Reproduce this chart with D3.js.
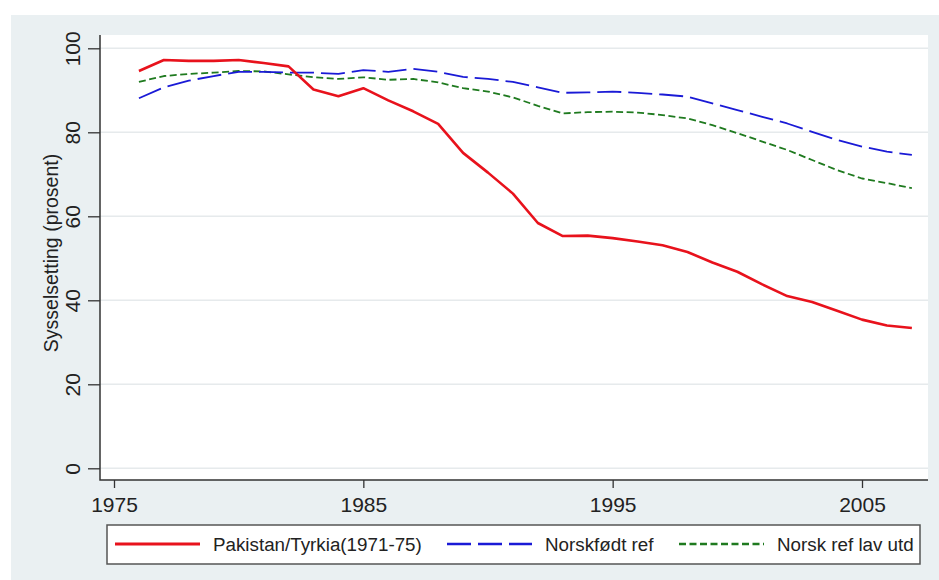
<!DOCTYPE html>
<html>
<head>
<meta charset="utf-8">
<script src="https://cdn.jsdelivr.net/npm/d3@7"></script>
<style>
  body { margin: 0; background: #ffffff; }
  svg { display: block; font-family: "Liberation Sans", Arial, sans-serif; }
</style>
</head>
<body>
<svg id="chart"></svg>
<script>
/* ===============================
   Data
================================ */

const years = d3.range(1976, 2008);

const pakTyr = [
  94.6, 97.2, 97.0, 97.0, 97.2, 96.5, 95.7, 90.2, 88.6, 90.5,
  87.6, 85.0, 82.0, 75.1, 70.4, 65.4, 58.4, 55.3, 55.4, 54.8,
  54.0, 53.1, 51.5, 49.0, 46.8, 43.8, 41.0, 39.6, 37.5, 35.4,
  34.0, 33.4
];

const norskfodt = [
  88.1, 90.7, 92.3, 93.4, 94.4, 94.4, 94.2, 94.2, 93.9, 94.8,
  94.4, 95.1, 94.4, 93.2, 92.7, 92.0, 90.7, 89.4, 89.5, 89.7,
  89.4, 89.0, 88.5, 86.9, 85.3, 83.7, 82.1, 80.1, 78.2, 76.6,
  75.4, 74.6
];

const norskLav = [
  92.0, 93.4, 93.9, 94.2, 94.6, 94.5, 93.8, 93.1, 92.7, 93.1,
  92.5, 92.7, 91.9, 90.5, 89.7, 88.3, 86.3, 84.5, 84.8, 84.9,
  84.7, 84.1, 83.3, 81.7, 79.8, 77.8, 75.8, 73.4, 71.0, 69.0,
  67.9, 66.7
];

const xTicks = [1975, 1985, 1995, 2005];
const yTicks = [0, 20, 40, 60, 80, 100];

const series = [
  { name: "Pakistan/Tyrkia(1971-75)", values: pakTyr,    color: "#e8121c", width: 2.6, dash: null },
  { name: "Norskfødt ref",            values: norskfodt, color: "#1a1ad6", width: 1.8, dash: "24,7" },
  { name: "Norsk ref lav utd",        values: norskLav,  color: "#1f7a1f", width: 1.8, dash: "7,3.5" }
];

/* ===============================
   Layout
================================ */

const W = 939, H = 580;
const plot = { left: 100, right: 928, top: 35, bottom: 480 };

const svg = d3.select("#chart").attr("width", W).attr("height", H);

svg.append("rect")
  .attr("x", 11).attr("y", 15)
  .attr("width", W - 11).attr("height", H - 15)
  .attr("fill", "#eaf0f2");

svg.append("rect")
  .attr("x", plot.left).attr("y", plot.top)
  .attr("width", plot.right - plot.left).attr("height", plot.bottom - plot.top)
  .attr("fill", "#ffffff");

const x = d3.scaleLinear().domain([1975, 2005]).range([114, 862]);
const y = d3.scaleLinear().domain([0, 100]).range([468.3, 48.3]);

/* -------- grid -------- */

svg.append("g")
  .selectAll("line")
  .data(yTicks)
  .join("line")
  .attr("x1", plot.left).attr("x2", plot.right)
  .attr("y1", d => y(d)).attr("y2", d => y(d))
  .attr("stroke", "#e6eaec")
  .attr("stroke-width", 1.5);

/* -------- axes -------- */

const yAxis = svg.append("g")
  .attr("transform", `translate(${plot.left},0)`)
  .call(d3.axisLeft(y).tickValues(yTicks).tickSize(12).tickFormat(d3.format("d")));

yAxis.select(".domain").remove();
yAxis.selectAll(".tick line").attr("stroke", "#333").attr("stroke-width", 1.3);
yAxis.selectAll(".tick text")
  .attr("x", null).attr("dy", null)
  .attr("transform", "translate(-20,0) rotate(-90)")
  .attr("text-anchor", "middle")
  .attr("fill", "#222")
  .style("font-size", "21px");

const xAxis = svg.append("g")
  .attr("transform", `translate(0,${plot.bottom})`)
  .call(d3.axisBottom(x).tickValues(xTicks).tickSize(8).tickFormat(d3.format("d")));

xAxis.select(".domain").remove();
xAxis.selectAll(".tick line").attr("stroke", "#333").attr("stroke-width", 1.3);
xAxis.selectAll(".tick text")
  .attr("y", 32).attr("dy", null)
  .attr("fill", "#222")
  .style("font-size", "21px");

svg.append("path")
  .attr("d", `M${plot.left},${plot.top}V${plot.bottom}H${plot.right}`)
  .attr("fill", "none")
  .attr("stroke", "#333")
  .attr("stroke-width", 1.5);

svg.append("text")
  .attr("transform", `translate(58,253) rotate(-90)`)
  .attr("text-anchor", "middle")
  .attr("fill", "#222")
  .style("font-size", "19.5px")
  .text("Sysselsetting (prosent)");

/* -------- lines -------- */

const line = d3.line()
  .x((d, i) => x(years[i]))
  .y(d => y(d));

svg.append("g")
  .selectAll("path")
  .data(series.slice().reverse())
  .join("path")
  .attr("d", d => line(d.values))
  .attr("fill", "none")
  .attr("stroke", d => d.color)
  .attr("stroke-width", d => d.width)
  .attr("stroke-dasharray", d => d.dash)
  .attr("stroke-linejoin", "round");

/* -------- legend -------- */

const legend = svg.append("g");

legend.append("rect")
  .attr("x", 107).attr("y", 525)
  .attr("width", 813).attr("height", 39)
  .attr("fill", "#ffffff")
  .attr("stroke", "#555")
  .attr("stroke-width", 1.5);

const legendX = [115, 447, 679];

const item = legend.selectAll(".item")
  .data(series)
  .join("g")
  .attr("class", "item")
  .attr("transform", (d, i) => `translate(${legendX[i]},544)`);

item.append("line")
  .attr("x1", 0).attr("x2", 85)
  .attr("stroke", d => d.color)
  .attr("stroke-width", d => d.width + 0.6)
  .attr("stroke-dasharray", d => d.dash);

item.append("text")
  .attr("x", 98)
  .attr("dy", "0.35em")
  .attr("fill", "#222")
  .style("font-size", "18.8px")
  .text(d => d.name);
</script>
</body>
</html>
